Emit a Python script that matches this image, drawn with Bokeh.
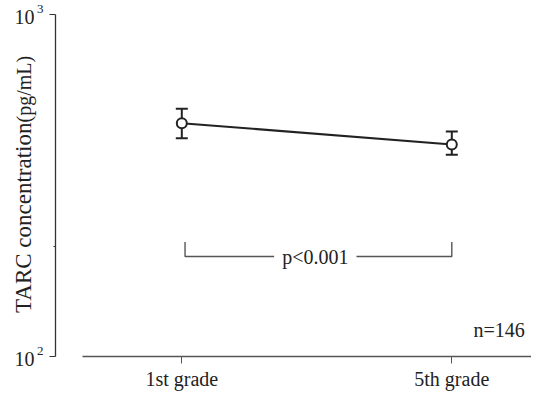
from bokeh.plotting import figure
from bokeh.layouts import row
from bokeh.models import Range1d, FixedTicker, Whisker, ColumnDataSource, TeeHead, LogScale
from bokeh.embed import file_html
from bokeh.resources import INLINE
from bokeh.core.properties import value
import math

# ---- data ----
grades = ["1st grade", "5th grade"]
mean_tarc = [481, 417]
upper_tarc = [530, 455]
lower_tarc = [435, 389]
y_ticks = [100, 1000]
y_tick_base = ["10", "10"]
y_tick_exponents = ["2", "3"]
y_minor_ticks = [210]
y_title = "TARC concentration"
y_units = "(pg/mL)"
n_text = "n=146"
p_text = "p<0.001"
bracket_level = 196
bracket_top = 216

FONT = "Liberation Serif"
INK = "#222222"

# ---- layout constants (pixels) ----
H = 394
LEFT_W = 49
MAIN_W = 531 - LEFT_W
TOP, BOTTOM = 14, 38
FRAME_H = H - TOP - BOTTOM

xs = [i + 1 for i in range(len(grades))]
src = ColumnDataSource(dict(x=xs, y=mean_tarc, upper=upper_tarc, lower=lower_tarc))

# ---------------- main plot ----------------
x_start, x_end = 0.5322, 2.2952
p = figure(width=MAIN_W, height=H, x_range=Range1d(x_start, x_end),
           y_range=Range1d(y_ticks[0], y_ticks[-1]), y_axis_type="log",
           output_backend="svg", toolbar_location=None,
           min_border_left=6, min_border_right=0, min_border_top=TOP, min_border_bottom=BOTTOM)
p.frame_align = False
p.outline_line_color = None
p.xgrid.visible = False
p.ygrid.visible = False

xa = p.xaxis[0]
xa.ticker = FixedTicker(ticks=xs, minor_ticks=[])
xa.major_label_overrides = {x: g for x, g in zip(xs, grades)}
xa.bounds = (0.6329, x_end)
xa.axis_line_color = "#555555"
xa.axis_line_width = 1.3
xa.major_tick_line_color = "#555555"
xa.major_tick_out = 7
xa.major_tick_in = 0
xa.minor_tick_out = 0
xa.major_label_standoff = 4
xa.major_label_text_font = FONT
xa.major_label_text_font_size = "20px"
xa.major_label_text_color = INK

ya = p.yaxis[0]
ya.ticker = FixedTicker(ticks=y_ticks, minor_ticks=y_minor_ticks)
ya.major_label_overrides = {t: "" for t in y_ticks}
ya.axis_line_color = "#333333"
ya.axis_line_width = 1.3
ya.major_tick_line_color = "#333333"
ya.major_tick_out = 6
ya.major_tick_in = 0
ya.minor_tick_line_color = "#333333"
ya.minor_tick_out = 2
ya.minor_tick_in = 0
ya.major_label_standoff = 0

p.line("x", "y", source=src, line_color=INK, line_width=2)
p.add_layout(Whisker(source=src, base="x", upper="upper", lower="lower",
                     line_color=INK, line_width=2,
                     upper_head=TeeHead(size=12, line_color=INK, line_width=2),
                     lower_head=TeeHead(size=12, line_color=INK, line_width=2)))
p.scatter("x", "y", source=src, size=10, fill_color="white", line_color=INK, line_width=2)

bl, br = xs[0] + 0.012, xs[1]
gap_l, gap_r = 1.342, 1.647
p.multi_line(xs=[[bl, bl, gap_l], [gap_r, br, br]],
             ys=[[bracket_top, bracket_level, bracket_level],
                 [bracket_level, bracket_level, bracket_top]],
             line_color="#555555", line_width=1.4)
p.text(x=[(gap_l + gap_r) / 2], y=[bracket_level], text=[p_text], text_font=value(FONT),
       text_font_size="20px", text_align="center", text_baseline="middle", text_color=INK)
p.text(x=[x_end - 0.025], y=[y_ticks[0]], y_offset=-27, text=[n_text], text_font=value(FONT),
       text_font_size="20px", text_align="right", text_baseline="alphabetic", text_color=INK)

# ---------------- left strip: y tick labels and y title ----------------
left = figure(width=LEFT_W, height=H, x_range=Range1d(0, LEFT_W), y_range=Range1d(H, 0),
              x_axis_location=None, y_axis_location=None, min_border=0,
              output_backend="svg", toolbar_location=None)
left.frame_align = False
left.outline_line_color = None
left.xgrid.visible = False
left.ygrid.visible = False
lo = math.log10(y_ticks[0]) - BOTTOM / FRAME_H
hi = math.log10(y_ticks[-1]) + TOP / FRAME_H
left.extra_y_ranges = {"log": Range1d(10 ** lo, 10 ** hi)}
left.extra_y_scales = {"log": LogScale()}

left.text(x=[34] * len(y_ticks), y=y_ticks, text=y_tick_base, y_range_name="log", y_offset=2,
          text_font=value(FONT), text_font_size="20px", text_align="right",
          text_baseline="middle", text_color=INK)
left.text(x=[36.5] * len(y_ticks), y=y_ticks, text=y_tick_exponents, y_range_name="log", y_offset=-6,
          text_font=value(FONT), text_font_size="13px", text_align="left",
          text_baseline="middle", text_color=INK)

left.text(x=[23], y=[122], text=[y_title], angle=math.pi / 2, text_font=value(FONT),
          text_font_size="23px", text_align="right", text_baseline="alphabetic", text_color=INK)
left.text(x=[23], y=[122], text=[y_units], angle=math.pi / 2, text_font=value(FONT),
          text_font_size="20px", text_align="left", text_baseline="alphabetic", text_color=INK)

layout = row(left, p, spacing=0)
open("out.html", "w").write(file_html(layout, INLINE))
